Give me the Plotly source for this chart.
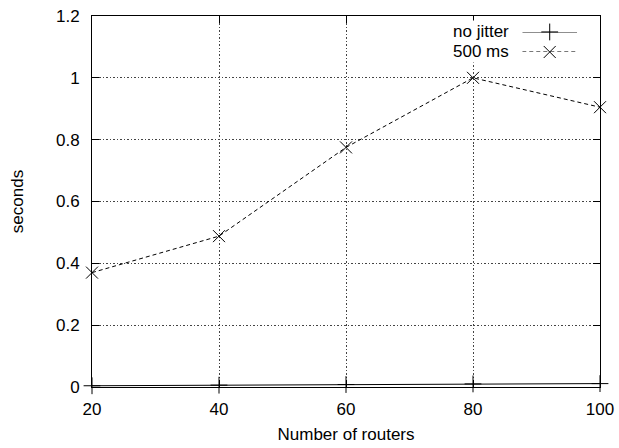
import plotly.graph_objects as go

routers = [20, 40, 60, 80, 100]
no_jitter = [0.004, 0.006, 0.008, 0.010, 0.011]
jitter_500 = [0.37, 0.488, 0.775, 1.0, 0.905]
series_names = ["no jitter", "500 ms"]
y_ticks = [0, 0.2, 0.4, 0.6, 0.8, 1, 1.2]
y_tick_text = ["0", "0.2", "0.4", "0.6", "0.8", "1", "1.2"]

FONT = dict(family="Liberation Sans, Arial, sans-serif", size=17, color="black")
DASH = "4px,3px"

fig = go.Figure()
fig.add_trace(go.Scatter(x=routers, y=no_jitter, mode="lines+markers",
                         line=dict(color="black", width=1),
                         marker=dict(symbol="cross-thin", size=12, line=dict(color="black", width=1)),
                         showlegend=False, name=series_names[0], cliponaxis=False))
fig.add_trace(go.Scatter(x=routers, y=jitter_500, mode="lines+markers",
                         line=dict(color="black", width=1, dash=DASH),
                         marker=dict(symbol="x-thin", size=12, line=dict(color="black", width=1)),
                         showlegend=False, name=series_names[1], cliponaxis=False))

# legend samples on a small separate axes pair (gnuplot-style: text then sample)
leg_x = [0.0, 0.5, 1.0]
fig.add_trace(go.Scatter(x=leg_x, y=[1, 1, 1], xaxis="x2", yaxis="y2", mode="lines",
                         line=dict(color="black", width=1), showlegend=False, hoverinfo="skip"))
fig.add_trace(go.Scatter(x=[0.5], y=[1], xaxis="x2", yaxis="y2", mode="markers",
                         marker=dict(symbol="cross-thin", size=12, line=dict(color="black", width=1)),
                         showlegend=False, hoverinfo="skip", cliponaxis=False))
fig.add_trace(go.Scatter(x=leg_x, y=[0, 0, 0], xaxis="x2", yaxis="y2", mode="lines",
                         line=dict(color="black", width=1, dash=DASH), showlegend=False, hoverinfo="skip"))
fig.add_trace(go.Scatter(x=[0.5], y=[0], xaxis="x2", yaxis="y2", mode="markers",
                         marker=dict(symbol="x-thin", size=12, line=dict(color="black", width=1)),
                         showlegend=False, hoverinfo="skip", cliponaxis=False))

# white key background hiding the grid behind the legend
fig.add_shape(type="rect", xref="paper", yref="paper", x0=0.70, x1=0.995, y0=0.875, y1=0.982,
              fillcolor="white", line=dict(width=0), layer="between")

# legend text (plot area: x 92..600, y 16..387)
for i, name in enumerate(series_names):
    fig.add_annotation(text=name, xref="paper", yref="paper", x=0.825, y=0.957 - i * 0.054,
                       xanchor="right", yanchor="middle", showarrow=False, font=FONT,
                       bgcolor="white", borderpad=1)

axis_common = dict(showline=True, linecolor="black", linewidth=1, mirror="ticks",
                   ticks="inside", ticklen=7, tickcolor="black", tickwidth=1,
                   showgrid=True, gridcolor="#444", gridwidth=1, griddash="1.5px,2px",
                   zeroline=False, tickfont=FONT, automargin=False)

fig.update_layout(
    width=619, height=448,
    margin=dict(l=92, r=19, t=16, b=61),
    paper_bgcolor="white", plot_bgcolor="white",
    font=FONT,
    xaxis=dict(range=[20, 100], tickvals=routers, title=dict(text="Number of routers", font=FONT, standoff=9),
               ticklabelstandoff=7, **axis_common),
    yaxis=dict(range=[0, 1.2], tickvals=y_ticks, ticktext=y_tick_text,
               title=dict(text="seconds", font=FONT, standoff=28), ticklabelstandoff=8, **axis_common),
    xaxis2=dict(domain=[0.847, 0.955], range=[0, 1], visible=False, anchor="y2", fixedrange=True),
    yaxis2=dict(domain=[0.903, 0.957], range=[0, 1], visible=False, anchor="x2", fixedrange=True),
)

fig.write_html("out.html", config={"displayModeBar": False})

# remove the browser's default 8px body margin so the figure sits at the page origin
with open("out.html", "r", encoding="utf-8") as f:
    html = f.read()
html = html.replace("<body>", '<body style="margin:0;padding:0;">', 1)
with open("out.html", "w", encoding="utf-8") as f:
    f.write(html)
